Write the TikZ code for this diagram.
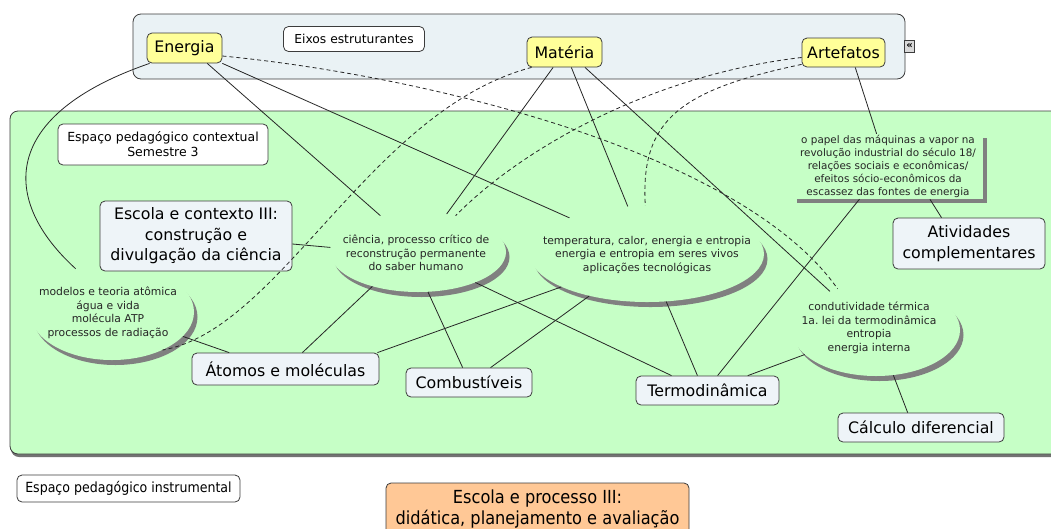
\documentclass[tikz,border=0pt]{standalone}
\usepackage{fontspec}
\setmainfont{DejaVu Sans}
\newfontfamily\condfont{DejaVu Sans Condensed}
\usetikzlibrary{shapes.geometric,shadows,calc}
\definecolor{greenbg}{RGB}{198,255,198}
\definecolor{topbg}{RGB}{234,242,245}
\definecolor{yellowc}{RGB}{255,255,153}
\definecolor{bluec}{RGB}{238,244,248}
\definecolor{orangec}{RGB}{255,200,150}
\definecolor{edgec}{RGB}{60,60,60}
\definecolor{shadec}{RGB}{128,128,128}
\tikzset{
  box/.style={draw=edgec, line width=0.8pt, rounded corners=5pt, inner sep=0pt, align=center},
  yel/.style={box, fill=yellowc, font=\fontsize{15.8}{19}\selectfont},
  blu/.style={box, fill=bluec, font=\fontsize{15.8}{20.5}\selectfont},
  wht/.style={box, fill=white},
  ell/.style={ellipse, fill=greenbg, inner sep=0pt,
    drop shadow={shadow xshift=3.5pt, shadow yshift=-5pt, fill=shadec, opacity=1}},
  elltext/.style={inner sep=0pt, align=center, text=black!85, font=\fontsize{10.8}{13.5}\selectfont},
  conn/.style={draw=black!85, line width=0.8pt},
  dconn/.style={conn, dash pattern=on 4pt off 3pt},
  frame/.style={draw=edgec, line width=0.8pt, rounded corners=8pt}
}
\frenchspacing
\begin{document}
\begin{tikzpicture}[x=1pt,y=-1pt]
\useasboundingbox (0,0) rectangle (1051,528);
\clip (0,0) rectangle (1051,528);
% frames
\draw[frame, fill=topbg] (133,14) rectangle (905,79);
\draw[frame, fill=greenbg, drop shadow={shadow xshift=1pt, shadow yshift=-3pt, fill=black!55, opacity=1}] (10,111) rectangle (1075,454);
\node[draw=edgec, fill=black!15, line width=0.7pt, inner sep=0pt, minimum width=10pt, minimum height=12pt, font=\bfseries\fontsize{10}{10}\selectfont] (icon) at (909.5,46) {«};

% ellipse nodes
\node[ell, minimum width=176pt, minimum height=80pt] (ciencia) at (418,252) {};
\node[elltext] (ciencia-t) at (416,253)
  {ciência, processo crítico de\\reconstrução permanente\\do saber humano};
\node[ell, minimum width=234pt, minimum height=96pt] (temperatura) at (647,254) {};
\node[elltext] (temperatura-t) at (647,255)
  {temperatura, calor, energia e entropia\\energia e entropia em seres vivos\\aplicações tecnológicas};
\node[ell, minimum width=164pt, minimum height=96pt] (modelos) at (112,312) {};
\node[elltext] (modelos-t) at (108,313)
  {modelos e teoria atômica\\água e vida\\molécula ATP\\processos de radiação};
\node[ell, minimum width=168pt, minimum height=92pt] (condut) at (876,330) {};
\node[elltext] (condut-t) at (869,328)
  {condutividade térmica\\1a. lei da termodinâmica\\entropia\\energia interna};

% top nodes
\node[yel, minimum width=75pt, minimum height=30pt] (energia) at (184.5,48) {Energia};
\node[yel, minimum width=75pt, minimum height=30pt] (materia) at (564.5,52) {Matéria};
\node[yel, minimum width=83pt, minimum height=29pt] (artefatos) at (843.5,52.5) {Artefatos};
\node[wht, minimum width=141pt, minimum height=25pt, font=\fontsize{12.3}{15}\selectfont] (eixos) at (354,39) {Eixos estruturantes};

% green area nodes
\node[wht, minimum width=210pt, minimum height=41pt, font=\fontsize{12.5}{15}\selectfont] (contextual) at (163,144.5) {Espaço pedagógico contextual\\Semestre 3};
\node[blu, minimum width=192pt, minimum height=70pt] (escola) at (196,236) {Escola e contexto III:\\construção e\\divulgação da ciência};
\node[blu, minimum width=187pt, minimum height=32pt] (atomos) at (285.5,369) {Átomos e moléculas};
\node[blu, minimum width=126pt, minimum height=29pt] (comb) at (469,382.5) {Combustíveis};
\node[blu, minimum width=143pt, minimum height=29pt] (termo) at (707.5,390.5) {Termodinâmica};
\node[blu, minimum width=166pt, minimum height=29pt] (calcdif) at (921,427.5) {Cálculo diferencial};
\node[blu, minimum width=152pt, minimum height=51pt] (ativ) at (969,243.5) {Atividades\\complementares};
\node[inner sep=0pt, align=center, fill=greenbg, minimum width=190pt, minimum height=65pt,
  text=black!85, font=\fontsize{10.4}{13}\selectfont,
  drop shadow={shadow xshift=4pt, shadow yshift=-4pt, fill=shadec, opacity=1}] (papel) at (888,166.5)
  {o papel das máquinas a vapor na\\revolução industrial do século 18/\\relações sociais e econômicas/\\efeitos sócio-econômicos da\\escassez das fontes de energia};

% bottom nodes
\node[wht, minimum width=223pt, minimum height=27pt, font=\condfont\fontsize{14}{17}\selectfont] (instrumental) at (128.5,488.5) {Espaço pedagógico instrumental};
\node[box, fill=orangec, minimum width=303pt, minimum height=52pt, font=\condfont\fontsize{18}{21}\selectfont] (processo) at (537.5,509) {Escola e processo III:\\didática, planejamento e avaliação};

% solid connectors
\draw[conn] ($(energia.south west)+(3,0)$) .. controls (0,115) and (0,200) .. (modelos.130);
\draw[conn] ($(energia.south west)!0.8!(energia.south east)$) -- (ciencia.136);
\draw[conn] (energia.south east) -- (temperatura.155);
\draw[conn] ($(materia.south west)!0.35!(materia.south east)$) -- (ciencia.53);
\draw[conn] ($(materia.south west)!0.59!(materia.south east)$) -- (temperatura.112);
\draw[conn] ($(materia.south west)!0.77!(materia.south east)$) -- (condut.140);
\draw[conn] ($(artefatos.south west)!0.64!(artefatos.south east)$) -- ($(papel.north west)!0.44!(papel.north east)$);
\draw[conn] ($(papel.south west)!0.72!(papel.south east)$) -- ($(ativ.north west)!0.32!(ativ.north east)$);
\draw[conn] ($(papel.south west)!0.35!(papel.south east)$) -- ($(termo.north west)!0.57!(termo.north east)$);
\draw[conn] ($(escola.east)+(0,8)$) -- (ciencia.177);
\draw[conn] (ciencia.-143) -- ($(atomos.north west)!0.59!(atomos.north east)$);
\draw[conn] (ciencia.-76) -- ($(comb.north west)!0.45!(comb.north east)$);
\draw[conn] (ciencia.-28) -- ($(termo.north west)!0.25!(termo.north east)$);
\draw[conn] (temperatura.-159) -- ($(atomos.north east)+(-2,0)$);
\draw[conn] (temperatura.-144) -- ($(comb.north west)!0.67!(comb.north east)$);
\draw[conn] (temperatura.-68) -- ($(termo.north west)!0.43!(termo.north east)$);
\draw[conn] (condut.-161) -- ($(termo.north west)!0.78!(termo.north east)$);
\draw[conn] (condut.-69) -- ($(calcdif.north west)!0.42!(calcdif.north east)$);
\draw[conn] (modelos.-19) -- ($(atomos.north west)!0.2!(atomos.north east)$);

% dashed connectors
\draw[dconn] ($(energia.east)+(0,8)$) .. controls (420,75) and (740,150) .. (condut.133);
\draw[dconn] ($(materia.south west)+(5,0)$) .. controls (370,110) and (280,330) .. (modelos.-37);
\draw[dconn] ($(artefatos.west)+(0,5)$) .. controls (650,75) and (520,150) .. (ciencia.44);
\draw[dconn] ($(artefatos.south west)+(0,-3)$) .. controls (680,90) and (640,120) .. (temperatura.92);
\end{tikzpicture}
\end{document}
